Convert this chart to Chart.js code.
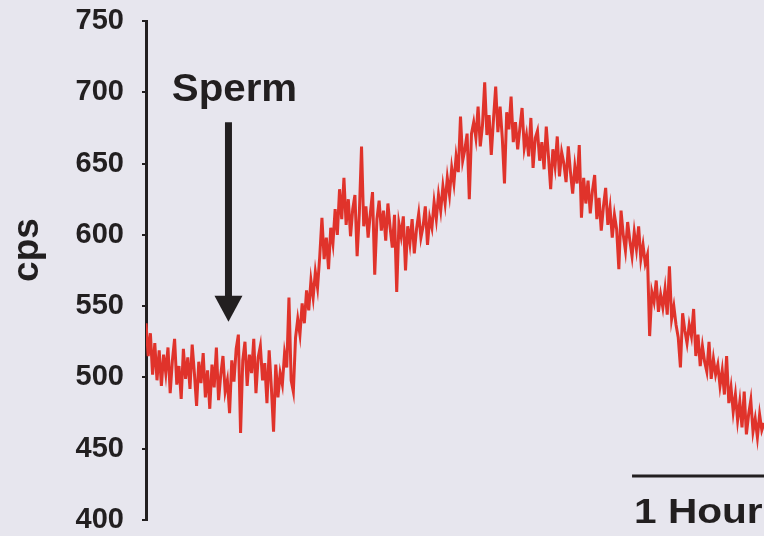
<!DOCTYPE html>
<html>
<head>
<meta charset="utf-8">
<script src="https://cdn.jsdelivr.net/npm/chart.js@4.4.0/dist/chart.umd.min.js"></script>
<style>
    html, body { margin: 0; padding: 0; background: #e7e6ee; }
    #wrap { width: 764px; height: 536px; }
</style>
</head>
<body>
<div id="wrap"><canvas id="trace"></canvas></div>
<script>
// counts per second, one reading per minute
const cps = [
    538, 515, 531, 502, 524, 498, 519, 494, 516, 503,
    521, 489, 512, 527, 495, 508, 485, 520, 499, 514,
    492, 523, 503, 480, 511, 496, 517, 486, 505, 478,
    509, 493, 521, 484, 502, 515, 490, 498, 475, 512,
    497, 520, 530, 461, 512, 525, 494, 516, 503, 527,
    489, 514, 522, 498, 510, 482, 519, 493, 462, 509,
    486, 503, 495, 517, 507, 556, 498, 490, 528, 541,
    530, 552, 538, 561, 547, 568, 556, 574, 563, 585,
    612, 583, 598, 576, 605, 594, 618, 600, 632, 611,
    640, 607, 625, 599, 618, 628, 585, 615, 662, 606,
    620, 598, 615, 630, 572, 611, 624, 603, 617, 596,
    622, 605, 591, 614, 560, 608, 599, 613, 575, 606,
    594, 611, 587, 604, 615, 598, 606, 620, 593, 612,
    605, 623, 611, 628, 617, 634, 622, 640, 628, 647,
    636, 655, 644, 683, 652, 660, 671, 625, 671, 679,
    668, 690, 662, 677, 707, 670, 684, 656, 681, 704,
    672, 690, 668, 636, 686, 674, 697, 665, 679, 660,
    675, 689, 661, 670, 655, 682, 647, 668, 673, 652,
    665, 646, 676, 655, 632, 660, 648, 669, 641, 658,
    650, 637, 662, 644, 629, 648, 636, 663, 612, 640,
    622, 638, 615, 631, 642, 611, 626, 603, 620, 633,
    607, 619, 598, 614, 604, 576, 617, 600, 589, 609,
    596, 585, 602, 590, 606, 583, 593, 580, 586, 529,
    560, 553, 568, 546, 558, 549, 562, 544, 578, 541,
    550, 537, 528, 507, 545, 533, 524, 537, 529, 548,
    515, 530, 508, 522, 511, 504, 525, 499, 513, 502,
    509, 494, 505, 488, 515, 482, 493, 476, 488, 470,
    483, 465, 490, 460, 474, 484, 462, 471, 458, 474,
    463, 468
];
const minutes = cps.map((v, i) => i);

const yTicks = [400, 450, 500, 550, 600, 650, 700, 750];

// annotations
const spermAt = 37.5;      // minute of sperm addition
const arrowTop = 679;      // cps
const arrowTip = 539;
const spermLabelY = 694;
const hourBar = [221, 281]; // minutes

const ink = '#221f20';
const red = '#e0332b';

const extras = {
    id: 'extras',
    beforeDraw(chart) {
        const ctx = chart.ctx;
        ctx.save();
        ctx.fillStyle = '#e7e6ee';
        ctx.fillRect(0, 0, chart.width, chart.height);
        ctx.restore();
    },
    afterDraw(chart) {
        const ctx = chart.ctx;
        const x = chart.scales.x;
        const y = chart.scales.y;
        ctx.save();
        ctx.fillStyle = ink;
        ctx.strokeStyle = ink;

        // y title
        ctx.save();
        ctx.translate(28, 250);
        ctx.rotate(-Math.PI / 2);
        ctx.font = 'bold 37px "Liberation Sans", Arial, sans-serif';
        ctx.textAlign = 'center';
        ctx.textBaseline = 'middle';
        ctx.fillText('cps', 0, 0);
        ctx.restore();

        // Sperm label + arrow
        const ax = x.getPixelForValue(spermAt);
        ctx.save();
        ctx.translate(ax + 6, y.getPixelForValue(spermLabelY));
        ctx.scale(1.06, 1);
        ctx.font = 'bold 38px "Liberation Sans", Arial, sans-serif';
        ctx.textAlign = 'center';
        ctx.textBaseline = 'alphabetic';
        ctx.fillText('Sperm', 0, 0);
        ctx.restore();

        const top = y.getPixelForValue(arrowTop);
        const tip = y.getPixelForValue(arrowTip);
        ctx.lineWidth = 7;
        ctx.beginPath();
        ctx.moveTo(ax, top);
        ctx.lineTo(ax, tip - 20);
        ctx.stroke();
        ctx.beginPath();
        ctx.moveTo(ax - 14, tip - 26);
        ctx.lineTo(ax + 14, tip - 26);
        ctx.lineTo(ax, tip);
        ctx.closePath();
        ctx.fill();

        // 1 hour scale bar
        const x1 = x.getPixelForValue(hourBar[0]);
        const x2 = x.getPixelForValue(hourBar[1]);
        ctx.lineWidth = 3;
        ctx.beginPath();
        ctx.moveTo(x1, 476);
        ctx.lineTo(x2, 476);
        ctx.stroke();
        ctx.save();
        ctx.translate(x1 + 2, 523);
        ctx.scale(1.16, 1);
        ctx.font = 'bold 35px "Liberation Sans", Arial, sans-serif';
        ctx.textAlign = 'left';
        ctx.fillText('1 Hour', 0, 0);
        ctx.restore();

        ctx.restore();
    }
};

new Chart(document.getElementById('trace'), {
    type: 'line',
    data: {
        datasets: [{
            data: cps.map((v, i) => ({x: minutes[i], y: v})),
            borderColor: red,
            borderWidth: 3,
            pointRadius: 0,
            tension: 0,
            fill: false
        }]
    },
    options: {
        responsive: true,
        maintainAspectRatio: false,
        animation: false,
        events: [],
        layout: {padding: {top: 21, bottom: 16, left: 0, right: 0}},
        plugins: {legend: {display: false}, tooltip: {enabled: false}},
        scales: {
            x: {type: 'linear', min: 0, max: 281, display: false},
            y: {
                min: 400,
                max: 750,
                afterFit(scale) {
                    scale.width = 146;
                    scale.paddingTop = 0;
                    scale.paddingBottom = 0;
                },
                afterBuildTicks(scale) { scale.ticks = yTicks.map(v => ({value: v})); },
                ticks: {
                    color: ink,
                    padding: 18,
                    font: {family: '"Liberation Sans", Arial, sans-serif', size: 29, weight: 'bold'}
                },
                grid: {drawOnChartArea: false, drawTicks: true, tickLength: 4, color: ink, lineWidth: 2},
                border: {color: ink, width: 3}
            }
        }
    },
    plugins: [extras]
});
</script>
</body>
</html>
